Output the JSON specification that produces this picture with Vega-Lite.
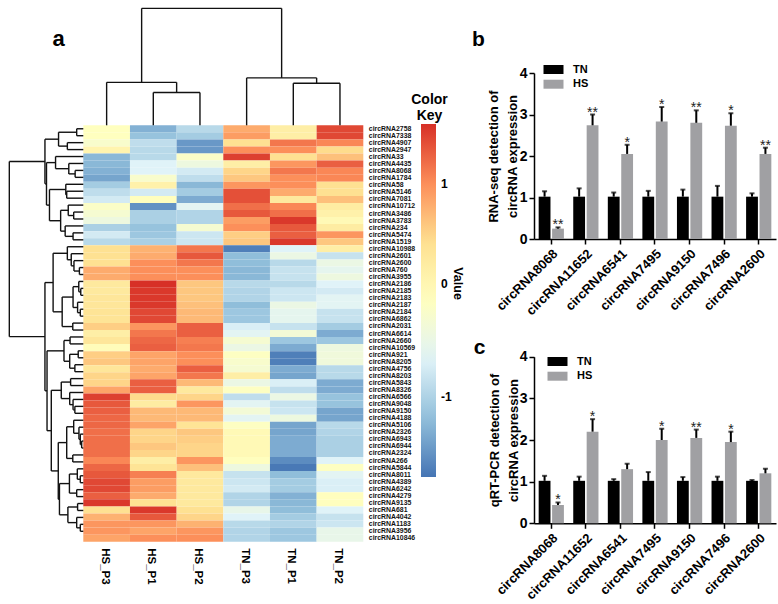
{"$schema":"https://vega.github.io/schema/vega-lite/v6.json","width":778,"height":604,"padding":0,"autosize":{"type":"none"},"background":"white",
"config":{"font":"Liberation Sans","view":{"stroke":null},"axis":{"grid":false}},
"datasets":{
"colTree":[{"h":34.6,"h1":0,"h2":0,"p1":1.5,"p2":2.5},{"h":45.3,"h1":0,"h2":34.6,"p1":0.5,"p2":2},{"h":44.3,"h1":0,"h2":0,"p1":4.5,"p2":5.5},{"h":50,"h1":0,"h2":44.3,"p1":3.5,"p2":5},{"h":123.3,"h1":45.3,"h2":50,"p1":1.25,"p2":4.25}],
"rowTree":[{"h":7.3,"h1":0,"h2":0,"p1":0.5,"p2":1.5},{"h":17.6,"h1":0,"h2":0,"p1":2.5,"p2":3.5},{"h":27.3,"h1":7.3,"h2":17.6,"p1":1,"p2":3},{"h":9,"h1":0,"h2":0,"p1":6.5,"p2":7.5},{"h":16,"h1":0,"h2":9,"p1":5.5,"p2":7},{"h":30.6,"h1":0,"h2":16,"p1":4.5,"p2":6.25},{"h":18.3,"h1":0,"h2":0,"p1":9.5,"p2":10.5},{"h":19.3,"h1":0,"h2":18.3,"p1":8.5,"p2":10},{"h":10.6,"h1":0,"h2":0,"p1":12.5,"p2":13.5},{"h":16.6,"h1":0,"h2":10.6,"p1":11.5,"p2":13},{"h":11.3,"h1":0,"h2":0,"p1":15.5,"p2":16.5},{"h":20,"h1":0,"h2":11.3,"p1":14.5,"p2":16},{"h":25,"h1":16.6,"h2":20,"p1":12.25,"p2":15.25},{"h":37.3,"h1":19.3,"h2":25,"p1":9.25,"p2":13.75},{"h":40.6,"h1":30.6,"h2":37.3,"p1":5.375,"p2":11.5},{"h":42.3,"h1":27.3,"h2":40.6,"p1":2,"p2":8.44},
{"h":4.3,"h1":0,"h2":0,"p1":20.5,"p2":21.5},{"h":10.3,"h1":0,"h2":4.3,"p1":19.5,"p2":21},{"h":13.3,"h1":0,"h2":10.3,"p1":18.5,"p2":20.25},{"h":17.6,"h1":0,"h2":13.3,"p1":17.5,"p2":19.375},{"h":2.8,"h1":0,"h2":0,"p1":23.5,"p2":24.5},{"h":5,"h1":0,"h2":2.8,"p1":22.5,"p2":24},{"h":3.3,"h1":0,"h2":0,"p1":26.5,"p2":27.5},{"h":6.3,"h1":0,"h2":3.3,"p1":25.5,"p2":27},{"h":11.3,"h1":5,"h2":6.3,"p1":23.25,"p2":26.25},{"h":11.6,"h1":0,"h2":0,"p1":28.5,"p2":29.5},{"h":23.3,"h1":11.3,"h2":11.6,"p1":24.75,"p2":29},{"h":33.3,"h1":17.6,"h2":23.3,"p1":18.44,"p2":26.875},
{"h":14.6,"h1":0,"h2":0,"p1":30.5,"p2":31.5},{"h":5.6,"h1":0,"h2":0,"p1":32.5,"p2":33.5},{"h":9.3,"h1":0,"h2":0,"p1":34.5,"p2":35.5},{"h":15,"h1":5.6,"h2":9.3,"p1":33,"p2":35},{"h":21.3,"h1":14.6,"h2":15,"p1":31,"p2":34},
{"h":14,"h1":0,"h2":0,"p1":36.5,"p2":37.5},{"h":9.3,"h1":0,"h2":0,"p1":40.5,"p2":41.5},{"h":11.3,"h1":0,"h2":9.3,"p1":39.5,"p2":41},{"h":15,"h1":0,"h2":11.3,"p1":38.5,"p2":40.25},{"h":24.3,"h1":14,"h2":15,"p1":37,"p2":39.375},
{"h":1.8,"h1":0,"h2":0,"p1":45.5,"p2":46.5},{"h":3.3,"h1":0,"h2":1.8,"p1":44.5,"p2":46},{"h":4.8,"h1":0,"h2":3.3,"p1":43.5,"p2":45.25},{"h":10.6,"h1":0,"h2":4.8,"p1":42.5,"p2":44.375},{"h":11.6,"h1":0,"h2":0,"p1":47.5,"p2":48.5},{"h":18.3,"h1":10.6,"h2":11.6,"p1":43.44,"p2":48},
{"h":3.3,"h1":0,"h2":0,"p1":50.5,"p2":51.5},{"h":6.6,"h1":0,"h2":3.3,"p1":49.5,"p2":51},{"h":7.3,"h1":0,"h2":0,"p1":52.5,"p2":53.5},{"h":15.3,"h1":6.6,"h2":7.3,"p1":50.25,"p2":53},{"h":6.3,"h1":0,"h2":0,"p1":54.5,"p2":55.5},{"h":3.3,"h1":0,"h2":0,"p1":57.5,"p2":58.5},{"h":7.3,"h1":0,"h2":3.3,"p1":56.5,"p2":58},{"h":17,"h1":6.3,"h2":7.3,"p1":55,"p2":57.25},{"h":26.3,"h1":15.3,"h2":17,"p1":51.625,"p2":56.125},{"h":27.6,"h1":18.3,"h2":26.3,"p1":45.72,"p2":53.875},{"h":35.3,"h1":24.3,"h2":27.6,"p1":38.19,"p2":49.8},{"h":40,"h1":21.3,"h2":35.3,"p1":32.5,"p2":44},{"h":42.3,"h1":33.3,"h2":40,"p1":22.66,"p2":38.25},{"h":81.6,"h1":42.3,"h2":42.3,"p1":5.22,"p2":30.455}],
"rnaseq":[{"g":"circRNA8068","s":"TN","v":1.02,"t":1.15,"m":""},{"g":"circRNA8068","s":"HS","v":0.25,"t":0.28,"m":"**"},{"g":"circRNA11652","s":"TN","v":1.02,"t":1.22,"m":""},{"g":"circRNA11652","s":"HS","v":2.74,"t":3.0,"m":"**"},{"g":"circRNA6541","s":"TN","v":1.02,"t":1.12,"m":""},{"g":"circRNA6541","s":"HS","v":2.05,"t":2.27,"m":"*"},{"g":"circRNA7495","s":"TN","v":1.02,"t":1.16,"m":""},{"g":"circRNA7495","s":"HS","v":2.83,"t":3.18,"m":"*"},{"g":"circRNA9150","s":"TN","v":1.02,"t":1.19,"m":""},{"g":"circRNA9150","s":"HS","v":2.8,"t":3.1,"m":"**"},{"g":"circRNA7496","s":"TN","v":1.02,"t":1.28,"m":""},{"g":"circRNA7496","s":"HS","v":2.73,"t":3.03,"m":"*"},{"g":"circRNA2600","s":"TN","v":1.02,"t":1.1,"m":""},{"g":"circRNA2600","s":"HS","v":2.05,"t":2.2,"m":"**"}],
"qpcr":[{"g":"circRNA8068","s":"TN","v":1.02,"t":1.14,"m":""},{"g":"circRNA8068","s":"HS","v":0.44,"t":0.5,"m":"*"},{"g":"circRNA11652","s":"TN","v":1.02,"t":1.12,"m":""},{"g":"circRNA11652","s":"HS","v":2.2,"t":2.5,"m":"*"},{"g":"circRNA6541","s":"TN","v":1.02,"t":1.06,"m":""},{"g":"circRNA6541","s":"HS","v":1.3,"t":1.43,"m":""},{"g":"circRNA7495","s":"TN","v":1.02,"t":1.23,"m":""},{"g":"circRNA7495","s":"HS","v":2.0,"t":2.27,"m":"*"},{"g":"circRNA9150","s":"TN","v":1.02,"t":1.11,"m":""},{"g":"circRNA9150","s":"HS","v":2.05,"t":2.25,"m":"**"},{"g":"circRNA7496","s":"TN","v":1.02,"t":1.12,"m":""},{"g":"circRNA7496","s":"HS","v":1.95,"t":2.2,"m":"*"},{"g":"circRNA2600","s":"TN","v":1.02,"t":1.04,"m":""},{"g":"circRNA2600","s":"HS","v":1.2,"t":1.31,"m":""}],
"heat":[
{"r":"circRNA2758","c":"HS_P3","v":-0.17},{"r":"circRNA2758","c":"HS_P1","v":-1.45},{"r":"circRNA2758","c":"HS_P2","v":-1.05},{"r":"circRNA2758","c":"TN_P3","v":0.8},{"r":"circRNA2758","c":"TN_P1","v":0.15},{"r":"circRNA2758","c":"TN_P2","v":1.45},
{"r":"circRNA7338","c":"HS_P3","v":-0.17},{"r":"circRNA7338","c":"HS_P1","v":-1.3},{"r":"circRNA7338","c":"HS_P2","v":-1.2},{"r":"circRNA7338","c":"TN_P3","v":0.9},{"r":"circRNA7338","c":"TN_P1","v":0.15},{"r":"circRNA7338","c":"TN_P2","v":1.45},
{"r":"circRNA4907","c":"HS_P3","v":-0.3},{"r":"circRNA4907","c":"HS_P1","v":-1.0},{"r":"circRNA4907","c":"HS_P2","v":-1.65},{"r":"circRNA4907","c":"TN_P3","v":0.4},{"r":"circRNA4907","c":"TN_P1","v":1.15},{"r":"circRNA4907","c":"TN_P2","v":1.05},
{"r":"circRNA2947","c":"HS_P3","v":0.05},{"r":"circRNA2947","c":"HS_P1","v":-1.05},{"r":"circRNA2947","c":"HS_P2","v":-1.65},{"r":"circRNA2947","c":"TN_P3","v":1.0},{"r":"circRNA2947","c":"TN_P1","v":1.0},{"r":"circRNA2947","c":"TN_P2","v":0.45},
{"r":"circRNA33","c":"HS_P3","v":-1.4},{"r":"circRNA33","c":"HS_P1","v":-1.05},{"r":"circRNA33","c":"HS_P2","v":-0.25},{"r":"circRNA33","c":"TN_P3","v":1.5},{"r":"circRNA33","c":"TN_P1","v":0.4},{"r":"circRNA33","c":"TN_P2","v":0.65},
{"r":"circRNA4435","c":"HS_P3","v":-1.4},{"r":"circRNA4435","c":"HS_P1","v":-0.75},{"r":"circRNA4435","c":"HS_P2","v":-0.5},{"r":"circRNA4435","c":"TN_P3","v":0.15},{"r":"circRNA4435","c":"TN_P1","v":0.95},{"r":"circRNA4435","c":"TN_P2","v":1.3},
{"r":"circRNA8068","c":"HS_P3","v":-1.45},{"r":"circRNA8068","c":"HS_P1","v":-0.75},{"r":"circRNA8068","c":"HS_P2","v":-0.85},{"r":"circRNA8068","c":"TN_P3","v":0.5},{"r":"circRNA8068","c":"TN_P1","v":1.15},{"r":"circRNA8068","c":"TN_P2","v":1.05},
{"r":"circRNA1784","c":"HS_P3","v":-1.55},{"r":"circRNA1784","c":"HS_P1","v":-0.3},{"r":"circRNA1784","c":"HS_P2","v":-1.0},{"r":"circRNA1784","c":"TN_P3","v":0.6},{"r":"circRNA1784","c":"TN_P1","v":1.0},{"r":"circRNA1784","c":"TN_P2","v":1.05},
{"r":"circRNA58","c":"HS_P3","v":-1.2},{"r":"circRNA58","c":"HS_P1","v":0.1},{"r":"circRNA58","c":"HS_P2","v":-1.4},{"r":"circRNA58","c":"TN_P3","v":0.95},{"r":"circRNA58","c":"TN_P1","v":1.0},{"r":"circRNA58","c":"TN_P2","v":0.4},
{"r":"circRNA5146","c":"HS_P3","v":-1.0},{"r":"circRNA5146","c":"HS_P1","v":-0.85},{"r":"circRNA5146","c":"HS_P2","v":-1.2},{"r":"circRNA5146","c":"TN_P3","v":1.4},{"r":"circRNA5146","c":"TN_P1","v":0.8},{"r":"circRNA5146","c":"TN_P2","v":0.4},
{"r":"circRNA7081","c":"HS_P3","v":-0.85},{"r":"circRNA7081","c":"HS_P1","v":-0.15},{"r":"circRNA7081","c":"HS_P2","v":-1.5},{"r":"circRNA7081","c":"TN_P3","v":1.4},{"r":"circRNA7081","c":"TN_P1","v":0.25},{"r":"circRNA7081","c":"TN_P2","v":0.65},
{"r":"circRNA10712","c":"HS_P3","v":-0.25},{"r":"circRNA10712","c":"HS_P1","v":-1.7},{"r":"circRNA10712","c":"HS_P2","v":-0.7},{"r":"circRNA10712","c":"TN_P3","v":1.2},{"r":"circRNA10712","c":"TN_P1","v":1.05},{"r":"circRNA10712","c":"TN_P2","v":0.2},
{"r":"circRNA3486","c":"HS_P3","v":-0.35},{"r":"circRNA3486","c":"HS_P1","v":-1.15},{"r":"circRNA3486","c":"HS_P2","v":-1.1},{"r":"circRNA3486","c":"TN_P3","v":1.35},{"r":"circRNA3486","c":"TN_P1","v":1.2},{"r":"circRNA3486","c":"TN_P2","v":0.1},
{"r":"circRNA3783","c":"HS_P3","v":-0.5},{"r":"circRNA3783","c":"HS_P1","v":-1.15},{"r":"circRNA3783","c":"HS_P2","v":-1.1},{"r":"circRNA3783","c":"TN_P3","v":0.9},{"r":"circRNA3783","c":"TN_P1","v":1.55},{"r":"circRNA3783","c":"TN_P2","v":-0.05},
{"r":"circRNA234","c":"HS_P3","v":-1.15},{"r":"circRNA234","c":"HS_P1","v":-1.3},{"r":"circRNA234","c":"HS_P2","v":-0.35},{"r":"circRNA234","c":"TN_P3","v":1.0},{"r":"circRNA234","c":"TN_P1","v":1.35},{"r":"circRNA234","c":"TN_P2","v":0.2},
{"r":"circRNA5474","c":"HS_P3","v":-0.85},{"r":"circRNA5474","c":"HS_P1","v":-1.25},{"r":"circRNA5474","c":"HS_P2","v":-0.9},{"r":"circRNA5474","c":"TN_P3","v":0.55},{"r":"circRNA5474","c":"TN_P1","v":1.3},{"r":"circRNA5474","c":"TN_P2","v":0.95},
{"r":"circRNA1519","c":"HS_P3","v":-1.05},{"r":"circRNA1519","c":"HS_P1","v":-1.15},{"r":"circRNA1519","c":"HS_P2","v":-0.9},{"r":"circRNA1519","c":"TN_P3","v":0.6},{"r":"circRNA1519","c":"TN_P1","v":1.55},{"r":"circRNA1519","c":"TN_P2","v":0.6},
{"r":"circRNA10988","c":"HS_P3","v":0.4},{"r":"circRNA10988","c":"HS_P1","v":0.75},{"r":"circRNA10988","c":"HS_P2","v":1.15},{"r":"circRNA10988","c":"TN_P3","v":-1.85},{"r":"circRNA10988","c":"TN_P1","v":-0.75},{"r":"circRNA10988","c":"TN_P2","v":0.15},
{"r":"circRNA2601","c":"HS_P3","v":0.4},{"r":"circRNA2601","c":"HS_P1","v":0.8},{"r":"circRNA2601","c":"HS_P2","v":1.35},{"r":"circRNA2601","c":"TN_P3","v":-1.35},{"r":"circRNA2601","c":"TN_P1","v":-0.55},{"r":"circRNA2601","c":"TN_P2","v":-0.95},
{"r":"circRNA2600","c":"HS_P3","v":0.4},{"r":"circRNA2600","c":"HS_P1","v":1.0},{"r":"circRNA2600","c":"HS_P2","v":1.15},{"r":"circRNA2600","c":"TN_P3","v":-1.35},{"r":"circRNA2600","c":"TN_P1","v":-1.05},{"r":"circRNA2600","c":"TN_P2","v":-0.55},
{"r":"circRNA760","c":"HS_P3","v":0.8},{"r":"circRNA760","c":"HS_P1","v":1.0},{"r":"circRNA760","c":"HS_P2","v":1.0},{"r":"circRNA760","c":"TN_P3","v":-1.4},{"r":"circRNA760","c":"TN_P1","v":-0.95},{"r":"circRNA760","c":"TN_P2","v":-0.65},
{"r":"circRNA3955","c":"HS_P3","v":0.8},{"r":"circRNA3955","c":"HS_P1","v":1.0},{"r":"circRNA3955","c":"HS_P2","v":1.0},{"r":"circRNA3955","c":"TN_P3","v":-1.4},{"r":"circRNA3955","c":"TN_P1","v":-0.95},{"r":"circRNA3955","c":"TN_P2","v":-0.5},
{"r":"circRNA2186","c":"HS_P3","v":0.25},{"r":"circRNA2186","c":"HS_P1","v":1.6},{"r":"circRNA2186","c":"HS_P2","v":0.6},{"r":"circRNA2186","c":"TN_P3","v":-1.05},{"r":"circRNA2186","c":"TN_P1","v":-1.05},{"r":"circRNA2186","c":"TN_P2","v":-0.75},
{"r":"circRNA2185","c":"HS_P3","v":0.25},{"r":"circRNA2185","c":"HS_P1","v":1.55},{"r":"circRNA2185","c":"HS_P2","v":0.6},{"r":"circRNA2185","c":"TN_P3","v":-1.1},{"r":"circRNA2185","c":"TN_P1","v":-0.9},{"r":"circRNA2185","c":"TN_P2","v":-0.85},
{"r":"circRNA2183","c":"HS_P3","v":0.3},{"r":"circRNA2183","c":"HS_P1","v":1.55},{"r":"circRNA2183","c":"HS_P2","v":0.6},{"r":"circRNA2183","c":"TN_P3","v":-1.1},{"r":"circRNA2183","c":"TN_P1","v":-0.9},{"r":"circRNA2183","c":"TN_P2","v":-0.7},
{"r":"circRNA2187","c":"HS_P3","v":0.3},{"r":"circRNA2187","c":"HS_P1","v":1.55},{"r":"circRNA2187","c":"HS_P2","v":0.65},{"r":"circRNA2187","c":"TN_P3","v":-1.35},{"r":"circRNA2187","c":"TN_P1","v":-0.55},{"r":"circRNA2187","c":"TN_P2","v":-0.7},
{"r":"circRNA2184","c":"HS_P3","v":0.35},{"r":"circRNA2184","c":"HS_P1","v":1.45},{"r":"circRNA2184","c":"HS_P2","v":0.7},{"r":"circRNA2184","c":"TN_P3","v":-1.25},{"r":"circRNA2184","c":"TN_P1","v":-0.65},{"r":"circRNA2184","c":"TN_P2","v":-0.95},
{"r":"circRNA6862","c":"HS_P3","v":0.35},{"r":"circRNA6862","c":"HS_P1","v":1.45},{"r":"circRNA6862","c":"HS_P2","v":0.7},{"r":"circRNA6862","c":"TN_P3","v":-1.25},{"r":"circRNA6862","c":"TN_P1","v":-0.65},{"r":"circRNA6862","c":"TN_P2","v":-0.95},
{"r":"circRNA2031","c":"HS_P3","v":0.55},{"r":"circRNA2031","c":"HS_P1","v":0.95},{"r":"circRNA2031","c":"HS_P2","v":1.3},{"r":"circRNA2031","c":"TN_P3","v":-0.8},{"r":"circRNA2031","c":"TN_P1","v":-0.95},{"r":"circRNA2031","c":"TN_P2","v":-1.2},
{"r":"circRNA6614","c":"HS_P3","v":0.15},{"r":"circRNA6614","c":"HS_P1","v":1.15},{"r":"circRNA6614","c":"HS_P2","v":1.3},{"r":"circRNA6614","c":"TN_P3","v":-0.7},{"r":"circRNA6614","c":"TN_P1","v":-0.4},{"r":"circRNA6614","c":"TN_P2","v":-1.5},
{"r":"circRNA2660","c":"HS_P3","v":0.3},{"r":"circRNA2660","c":"HS_P1","v":1.25},{"r":"circRNA2660","c":"HS_P2","v":1.1},{"r":"circRNA2660","c":"TN_P3","v":-0.35},{"r":"circRNA2660","c":"TN_P1","v":-1.25},{"r":"circRNA2660","c":"TN_P2","v":-1.25},
{"r":"circRNA10569","c":"HS_P3","v":-0.1},{"r":"circRNA10569","c":"HS_P1","v":1.3},{"r":"circRNA10569","c":"HS_P2","v":1.15},{"r":"circRNA10569","c":"TN_P3","v":-0.55},{"r":"circRNA10569","c":"TN_P1","v":-1.5},{"r":"circRNA10569","c":"TN_P2","v":-0.5},
{"r":"circRNA921","c":"HS_P3","v":0.55},{"r":"circRNA921","c":"HS_P1","v":0.85},{"r":"circRNA921","c":"HS_P2","v":1.0},{"r":"circRNA921","c":"TN_P3","v":-0.2},{"r":"circRNA921","c":"TN_P1","v":-1.85},{"r":"circRNA921","c":"TN_P2","v":-0.45},
{"r":"circRNA8205","c":"HS_P3","v":0.6},{"r":"circRNA8205","c":"HS_P1","v":0.85},{"r":"circRNA8205","c":"HS_P2","v":1.0},{"r":"circRNA8205","c":"TN_P3","v":-0.3},{"r":"circRNA8205","c":"TN_P1","v":-1.85},{"r":"circRNA8205","c":"TN_P2","v":-0.45},
{"r":"circRNA4756","c":"HS_P3","v":0.3},{"r":"circRNA4756","c":"HS_P1","v":0.8},{"r":"circRNA4756","c":"HS_P2","v":1.3},{"r":"circRNA4756","c":"TN_P3","v":-0.35},{"r":"circRNA4756","c":"TN_P1","v":-1.5},{"r":"circRNA4756","c":"TN_P2","v":-1.05},
{"r":"circRNA8203","c":"HS_P3","v":0.5},{"r":"circRNA8203","c":"HS_P1","v":0.85},{"r":"circRNA8203","c":"HS_P2","v":1.15},{"r":"circRNA8203","c":"TN_P3","v":0.15},{"r":"circRNA8203","c":"TN_P1","v":-1.55},{"r":"circRNA8203","c":"TN_P2","v":-1.05},
{"r":"circRNA5843","c":"HS_P3","v":0.5},{"r":"circRNA5843","c":"HS_P1","v":1.3},{"r":"circRNA5843","c":"HS_P2","v":0.7},{"r":"circRNA5843","c":"TN_P3","v":-0.55},{"r":"circRNA5843","c":"TN_P1","v":-0.8},{"r":"circRNA5843","c":"TN_P2","v":-1.5},
{"r":"circRNA8326","c":"HS_P3","v":0.85},{"r":"circRNA8326","c":"HS_P1","v":1.3},{"r":"circRNA8326","c":"HS_P2","v":0.25},{"r":"circRNA8326","c":"TN_P3","v":-0.2},{"r":"circRNA8326","c":"TN_P1","v":-1.0},{"r":"circRNA8326","c":"TN_P2","v":-1.5},
{"r":"circRNA6566","c":"HS_P3","v":1.5},{"r":"circRNA6566","c":"HS_P1","v":0.45},{"r":"circRNA6566","c":"HS_P2","v":0.5},{"r":"circRNA6566","c":"TN_P3","v":-1.0},{"r":"circRNA6566","c":"TN_P1","v":-0.55},{"r":"circRNA6566","c":"TN_P2","v":-1.3},
{"r":"circRNA9048","c":"HS_P3","v":1.35},{"r":"circRNA9048","c":"HS_P1","v":0.2},{"r":"circRNA9048","c":"HS_P2","v":0.95},{"r":"circRNA9048","c":"TN_P3","v":-0.7},{"r":"circRNA9048","c":"TN_P1","v":-0.95},{"r":"circRNA9048","c":"TN_P2","v":-1.3},
{"r":"circRNA9150","c":"HS_P3","v":1.3},{"r":"circRNA9150","c":"HS_P1","v":0.7},{"r":"circRNA9150","c":"HS_P2","v":0.7},{"r":"circRNA9150","c":"TN_P3","v":-0.4},{"r":"circRNA9150","c":"TN_P1","v":-0.9},{"r":"circRNA9150","c":"TN_P2","v":-1.55},
{"r":"circRNA4188","c":"HS_P3","v":1.25},{"r":"circRNA4188","c":"HS_P1","v":0.7},{"r":"circRNA4188","c":"HS_P2","v":0.7},{"r":"circRNA4188","c":"TN_P3","v":-0.7},{"r":"circRNA4188","c":"TN_P1","v":-0.5},{"r":"circRNA4188","c":"TN_P2","v":-1.55},
{"r":"circRNA5106","c":"HS_P3","v":1.25},{"r":"circRNA5106","c":"HS_P1","v":0.85},{"r":"circRNA5106","c":"HS_P2","v":0.35},{"r":"circRNA5106","c":"TN_P3","v":-0.2},{"r":"circRNA5106","c":"TN_P1","v":-1.55},{"r":"circRNA5106","c":"TN_P2","v":-1.05},
{"r":"circRNA2326","c":"HS_P3","v":1.2},{"r":"circRNA2326","c":"HS_P1","v":0.5},{"r":"circRNA2326","c":"HS_P2","v":0.6},{"r":"circRNA2326","c":"TN_P3","v":-0.05},{"r":"circRNA2326","c":"TN_P1","v":-1.55},{"r":"circRNA2326","c":"TN_P2","v":-1.1},
{"r":"circRNA6943","c":"HS_P3","v":1.2},{"r":"circRNA6943","c":"HS_P1","v":0.5},{"r":"circRNA6943","c":"HS_P2","v":0.55},{"r":"circRNA6943","c":"TN_P3","v":-0.05},{"r":"circRNA6943","c":"TN_P1","v":-1.5},{"r":"circRNA6943","c":"TN_P2","v":-1.15},
{"r":"circRNA6944","c":"HS_P3","v":1.2},{"r":"circRNA6944","c":"HS_P1","v":0.6},{"r":"circRNA6944","c":"HS_P2","v":0.5},{"r":"circRNA6944","c":"TN_P3","v":-0.05},{"r":"circRNA6944","c":"TN_P1","v":-1.5},{"r":"circRNA6944","c":"TN_P2","v":-1.15},
{"r":"circRNA2324","c":"HS_P3","v":1.2},{"r":"circRNA2324","c":"HS_P1","v":0.5},{"r":"circRNA2324","c":"HS_P2","v":0.5},{"r":"circRNA2324","c":"TN_P3","v":-0.05},{"r":"circRNA2324","c":"TN_P1","v":-1.5},{"r":"circRNA2324","c":"TN_P2","v":-1.15},
{"r":"circRNA266","c":"HS_P3","v":1.05},{"r":"circRNA266","c":"HS_P1","v":0.15},{"r":"circRNA266","c":"HS_P2","v":0.95},{"r":"circRNA266","c":"TN_P3","v":-0.15},{"r":"circRNA266","c":"TN_P1","v":-1.75},{"r":"circRNA266","c":"TN_P2","v":-0.75},
{"r":"circRNA5844","c":"HS_P3","v":1.25},{"r":"circRNA5844","c":"HS_P1","v":0.35},{"r":"circRNA5844","c":"HS_P2","v":0.65},{"r":"circRNA5844","c":"TN_P3","v":-0.5},{"r":"circRNA5844","c":"TN_P1","v":-1.9},{"r":"circRNA5844","c":"TN_P2","v":-0.2},
{"r":"circRNA8011","c":"HS_P3","v":1.35},{"r":"circRNA8011","c":"HS_P1","v":1.1},{"r":"circRNA8011","c":"HS_P2","v":0.25},{"r":"circRNA8011","c":"TN_P3","v":-0.95},{"r":"circRNA8011","c":"TN_P1","v":-1.35},{"r":"circRNA8011","c":"TN_P2","v":-0.7},
{"r":"circRNA4389","c":"HS_P3","v":1.45},{"r":"circRNA4389","c":"HS_P1","v":0.9},{"r":"circRNA4389","c":"HS_P2","v":0.25},{"r":"circRNA4389","c":"TN_P3","v":-0.9},{"r":"circRNA4389","c":"TN_P1","v":-1.2},{"r":"circRNA4389","c":"TN_P2","v":-0.8},
{"r":"circRNA6242","c":"HS_P3","v":1.45},{"r":"circRNA6242","c":"HS_P1","v":0.9},{"r":"circRNA6242","c":"HS_P2","v":0.25},{"r":"circRNA6242","c":"TN_P3","v":-0.85},{"r":"circRNA6242","c":"TN_P1","v":-1.2},{"r":"circRNA6242","c":"TN_P2","v":-0.8},
{"r":"circRNA4279","c":"HS_P3","v":1.3},{"r":"circRNA4279","c":"HS_P1","v":0.8},{"r":"circRNA4279","c":"HS_P2","v":0.25},{"r":"circRNA4279","c":"TN_P3","v":-1.1},{"r":"circRNA4279","c":"TN_P1","v":-1.45},{"r":"circRNA4279","c":"TN_P2","v":-0.15},
{"r":"circRNA9135","c":"HS_P3","v":1.55},{"r":"circRNA9135","c":"HS_P1","v":0.4},{"r":"circRNA9135","c":"HS_P2","v":0.25},{"r":"circRNA9135","c":"TN_P3","v":-1.1},{"r":"circRNA9135","c":"TN_P1","v":-1.4},{"r":"circRNA9135","c":"TN_P2","v":-0.15},
{"r":"circRNA681","c":"HS_P3","v":0.4},{"r":"circRNA681","c":"HS_P1","v":1.55},{"r":"circRNA681","c":"HS_P2","v":0.4},{"r":"circRNA681","c":"TN_P3","v":-0.6},{"r":"circRNA681","c":"TN_P1","v":-1.35},{"r":"circRNA681","c":"TN_P2","v":-0.75},
{"r":"circRNA4042","c":"HS_P3","v":0.75},{"r":"circRNA4042","c":"HS_P1","v":1.35},{"r":"circRNA4042","c":"HS_P2","v":0.5},{"r":"circRNA4042","c":"TN_P3","v":-0.75},{"r":"circRNA4042","c":"TN_P1","v":-1.2},{"r":"circRNA4042","c":"TN_P2","v":-0.95},
{"r":"circRNA1183","c":"HS_P3","v":0.95},{"r":"circRNA1183","c":"HS_P1","v":0.95},{"r":"circRNA1183","c":"HS_P2","v":0.75},{"r":"circRNA1183","c":"TN_P3","v":-1.05},{"r":"circRNA1183","c":"TN_P1","v":-1.1},{"r":"circRNA1183","c":"TN_P2","v":-0.9},
{"r":"circRNA3956","c":"HS_P3","v":0.95},{"r":"circRNA3956","c":"HS_P1","v":0.85},{"r":"circRNA3956","c":"HS_P2","v":0.95},{"r":"circRNA3956","c":"TN_P3","v":-1.1},{"r":"circRNA3956","c":"TN_P1","v":-1.25},{"r":"circRNA3956","c":"TN_P2","v":-0.6},
{"r":"circRNA10846","c":"HS_P3","v":0.85},{"r":"circRNA10846","c":"HS_P1","v":1.0},{"r":"circRNA10846","c":"HS_P2","v":1.0},{"r":"circRNA10846","c":"TN_P3","v":-1.1},{"r":"circRNA10846","c":"TN_P1","v":-1.25},{"r":"circRNA10846","c":"TN_P2","v":-0.6}
]},
"resolve":{"scale":{"x":"independent","y":"independent","color":"independent","fill":"independent"},"axis":{"x":"independent","y":"independent"}},
"layer":[
{"data":{"name":"heat"},"mark":{"type":"rect"},"encoding":{
"x":{"field":"c","type":"nominal","sort":null,"scale":{"range":[83.3,363.3],"paddingInner":0,"paddingOuter":0},"axis":{"orient":"bottom","offset":-62.3,"domain":false,"ticks":false,"labelAngle":90,"labelFontSize":11.5,"labelFontWeight":"bold","labelColor":"#000","labelPadding":6,"labelOffset":-2,"title":"a","titleFontSize":22,"titleFontWeight":"bold","titleColor":"#000","titleX":58,"titleY":-496.7,"titleAlign":"center","titleBaseline":"alphabetic"}},
"y":{"field":"r","type":"nominal","sort":null,"scale":{"range":[125.3,541.7],"paddingInner":0,"paddingOuter":0},"axis":{"orient":"right","offset":-414.7,"domain":false,"ticks":false,"labelFontSize":6.9,"labelFontWeight":"bold","labelColor":"#111","labelPadding":5,"labelOverlap":false,"labelBound":false,"title":"Value","titleFontSize":12.5,"titleFontWeight":"bold","titleColor":"#000","titleAngle":90,"titleX":93.7,"titleY":283,"titleAlign":"center","titleBaseline":"middle"}},
"color":{"field":"v","type":"quantitative","scale":{"domain":[-1.93,-1.342,-0.753,-0.165,0.423,1.012,1.6],"range":["#4575b4","#91bfdb","#e0f3f8","#ffffbf","#fee090","#fc8d59","#d73027"],"interpolate":"rgb"},"legend":{"orient":"none","legendX":421,"legendY":124,"title":null,"padding":0,"gradientLength":353,"gradientThickness":15,"gradientStrokeWidth":0,"values":[1,0,-1.13],"labelExpr":"datum.value==1?'1':datum.value==0?'0':'-1'","labelFontSize":12,"labelFontWeight":"bold","labelColor":"#000","labelOffset":5}}}},
{"data":{"name":"colTree"},"layer":[
{"mark":{"type":"rule","color":"#111","strokeWidth":1.4},"encoding":{"x":{"field":"p1","type":"quantitative","scale":{"domain":[0,6],"range":[83.3,363.3]},"axis":{"orient":"bottom","domain":false,"ticks":false,"labels":false,"title":["Color","Key"],"titleFontSize":14,"titleFontWeight":"bold","titleColor":"#000","titleLineHeight":16,"titleX":429,"titleY":-501,"titleAlign":"center","titleBaseline":"alphabetic"}},"x2":{"field":"p2"},"y":{"field":"h","type":"quantitative","scale":{"domain":[0,123.3],"range":[125.3,2]},"axis":null}}},
{"mark":{"type":"rule","color":"#111","strokeWidth":1.4},"encoding":{"x":{"field":"p1","type":"quantitative"},"y":{"field":"h1","type":"quantitative"},"y2":{"field":"h"}}},
{"mark":{"type":"rule","color":"#111","strokeWidth":1.4},"encoding":{"x":{"field":"p2","type":"quantitative"},"y":{"field":"h2","type":"quantitative"},"y2":{"field":"h"}}}
]},
{"data":{"name":"rowTree"},"layer":[
{"mark":{"type":"rule","color":"#111","strokeWidth":1.4},"encoding":{"x":{"field":"h","type":"quantitative","scale":{"domain":[0,81.6],"range":[83.3,1.7]},"axis":null},"y":{"field":"p1","type":"quantitative","scale":{"domain":[0,59],"range":[125.3,541.7]},"axis":null},"y2":{"field":"p2"}}},
{"mark":{"type":"rule","color":"#111","strokeWidth":1.4},"encoding":{"x":{"field":"h1","type":"quantitative","axis":null},"x2":{"field":"h"},"y":{"field":"p1","type":"quantitative","axis":null}}},
{"mark":{"type":"rule","color":"#111","strokeWidth":1.4},"encoding":{"x":{"field":"h2","type":"quantitative","axis":null},"x2":{"field":"h"},"y":{"field":"p2","type":"quantitative","axis":null}}}
]},
{"data":{"name":"rnaseq"},"mark":{"type":"bar","opacity":0},"encoding":{"x":{"field":"g","type":"nominal","sort":null,"scale":{"range":[534,776],"paddingInner":0.27,"paddingOuter":0.135},"axis":{"orient":"bottom","offset":-365,"domainWidth":1.5,"domainColor":"#000","tickWidth":1.5,"tickColor":"#000","tickSize":5,"labelAngle":-45,"labelFontSize":13,"labelFontWeight":"bold","labelColor":"#000","labelPadding":3,"labelOverlap":false,"labelBound":false,"title":"b","titleFontSize":21,"titleFontWeight":"bold","titleColor":"#000","titleX":478,"titleY":-194,"titleAlign":"center","titleBaseline":"alphabetic"}},"y":{"field":"v","type":"quantitative","scale":{"domain":[0,4],"range":[239,73]},"axis":{"orient":"left","offset":-534,"values":[0,1,2,3,4],"format":"d","domainWidth":1.5,"domainColor":"#000","tickWidth":1.5,"tickColor":"#000","tickSize":5,"labelFontSize":14,"labelFontWeight":"bold","labelColor":"#000","labelPadding":2,"title":["RNA-seq detection of","circRNA expression"],"titleFontSize":13,"titleFontWeight":"bold","titleColor":"#000","titleAngle":-90,"titleLineHeight":19,"titleX":-37,"titleY":156,"titleAlign":"center","titleBaseline":"alphabetic"}}}},
{"data":{"name":"qpcr"},"mark":{"type":"bar","opacity":0},"encoding":{"x":{"field":"g","type":"nominal","sort":null,"scale":{"range":[534,776],"paddingInner":0.27,"paddingOuter":0.135},"axis":{"orient":"bottom","offset":-80.7,"domainWidth":1.5,"domainColor":"#000","tickWidth":1.5,"tickColor":"#000","tickSize":5,"labelAngle":-45,"labelFontSize":13,"labelFontWeight":"bold","labelColor":"#000","labelPadding":3,"labelOverlap":false,"labelBound":false,"title":"c","titleFontSize":21,"titleFontWeight":"bold","titleColor":"#000","titleX":479,"titleY":-170.3,"titleAlign":"center","titleBaseline":"alphabetic"}},"y":{"field":"v","type":"quantitative","scale":{"domain":[0,4],"range":[523.3,356.7]},"axis":{"orient":"left","offset":-534,"values":[0,1,2,3,4],"format":"d","domainWidth":1.5,"domainColor":"#000","tickWidth":1.5,"tickColor":"#000","tickSize":5,"labelFontSize":14,"labelFontWeight":"bold","labelColor":"#000","labelPadding":2,"title":["qRT-PCR detection of","circRNA expression"],"titleFontSize":13,"titleFontWeight":"bold","titleColor":"#000","titleAngle":-90,"titleLineHeight":19,"titleX":-36,"titleY":440,"titleAlign":"center","titleBaseline":"alphabetic"}}}},
{"data":{"name":"rnaseq"},"encoding":{"x":{"field":"g","type":"nominal","sort":null,"scale":{"range":[534,776],"paddingInner":0.27,"paddingOuter":0.135},"axis":null},"xOffset":{"field":"s","sort":["TN","HS"],"scale":{"paddingInner":0.12,"paddingOuter":0}}},
"layer":[
{"mark":{"type":"bar"},"encoding":{"y":{"field":"v","type":"quantitative","scale":{"domain":[0,4],"range":[239,73]},"axis":null},"fill":{"field":"s","type":"nominal","scale":{"domain":["TN","HS"],"range":["#000000","#a0a0a3"]},"legend":{"orient":"none","legendX":548,"legendY":64,"title":null,"padding":0,"symbolType":"M-2,-0.9H2V0.9H-2Z","symbolSize":100,"symbolStrokeWidth":0,"labelFontSize":11,"labelFontWeight":"bold","labelColor":"#000","labelOffset":14,"rowPadding":2.7}}}},
{"mark":{"type":"rule","color":"#000","strokeWidth":2},"encoding":{"y":{"field":"v","type":"quantitative","axis":null},"y2":{"field":"t"}}},
{"mark":{"type":"tick","color":"#000","thickness":2,"size":5,"orient":"horizontal"},"encoding":{"y":{"field":"t","type":"quantitative","axis":null}}},
{"mark":{"type":"text","fontSize":14,"color":"#222","baseline":"alphabetic","dy":2},"encoding":{"y":{"field":"t","type":"quantitative","axis":null},"text":{"field":"m"}}}
]},
{"data":{"name":"qpcr"},"encoding":{"x":{"field":"g","type":"nominal","sort":null,"scale":{"range":[534,776],"paddingInner":0.27,"paddingOuter":0.135},"axis":null},"xOffset":{"field":"s","sort":["TN","HS"],"scale":{"paddingInner":0.12,"paddingOuter":0}}},
"layer":[
{"mark":{"type":"bar"},"encoding":{"y":{"field":"v","type":"quantitative","scale":{"domain":[0,4],"range":[523.3,356.7]},"axis":null},"fill":{"field":"s","type":"nominal","scale":{"domain":["TN","HS"],"range":["#000000","#a0a0a3"]},"legend":{"orient":"none","legendX":552,"legendY":356,"title":null,"padding":0,"symbolType":"M-2,-0.9H2V0.9H-2Z","symbolSize":100,"symbolStrokeWidth":0,"labelFontSize":11,"labelFontWeight":"bold","labelColor":"#000","labelOffset":14,"rowPadding":2.7}}}},
{"mark":{"type":"rule","color":"#000","strokeWidth":2},"encoding":{"y":{"field":"v","type":"quantitative","axis":null},"y2":{"field":"t"}}},
{"mark":{"type":"tick","color":"#000","thickness":2,"size":5,"orient":"horizontal"},"encoding":{"y":{"field":"t","type":"quantitative","axis":null}}},
{"mark":{"type":"text","fontSize":14,"color":"#222","baseline":"alphabetic","dy":2},"encoding":{"y":{"field":"t","type":"quantitative","axis":null},"text":{"field":"m"}}}
]}
]}
